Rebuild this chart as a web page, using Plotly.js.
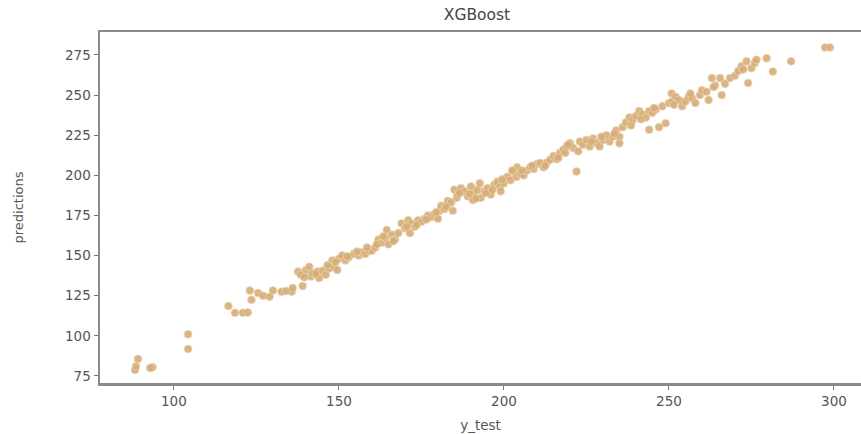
<!DOCTYPE html>
<html>
<head>
<meta charset="utf-8">
<script src="https://cdn.plot.ly/plotly-3.0.1.min.js"></script>
<style>html,body{margin:0;padding:0;background:#fff;}#chart{width:861px;height:434px;}</style>
</head>
<body>
<div id="chart"></div>
<script>
const yTest = [88.2,88.5,89.1,93.5,92.8,104.3,104.3,
116.5,118.5,120.9,122.4,123,123.5,125.5,127,129,130,132.6,135.7,134,
136,139,137.6,138.5,140,141.5,142,143.5,144,145,146,147,148,148.5,149.5,150,151,152,153,154.5,156,157,158,159,160,161,162,163,164,164.5,165,166,167,168,
169,170,171,171.5,172,173,174,175,176,177,178,179,180,180.6,181,182,183,184,184.5,185,185.7,186,187,188,189,190,190.6,191,192,192.7,193,194,195,196,197,198,198.8,199,200,201,202,203,203.8,204,205,206,207,208,209,210,211,212,213,214,215,216,217,218,218.6,219,220,221,222,223,224,225,226,227,228,229,230,231,232,233,234,235,235,236,237,238,239,240,241,242,243,244,244,245,246,247,248,249,250,250.8,251,252,253,254,255,256,257,258,259.4,260,261.4,262,263,264,265.5,266,267,268.5,270,271,272,273.5,274,275,276,276.5,279.6,281.5,287,297.3,298.8,
139.5,141,143,146.5,149,152.5,155.5,158.5,161.5,163.5,166.5,170.5,173.5,176.5,179.5,182.5,186.5,189.5,191.5,194.5,196.5,199.5,202.5,205.5,208.5,212.5,216.5,219.5,222.5,226.5,229.5,233.5,238.5,241.5,245.5,251.5,256.5,263.5,272.5];
const predictions = [78.7,81,85.6,80.4,80,101,91.8,
118.6,114.3,114.3,114.5,128.2,122.4,126.7,125,124.4,128.2,127.5,127.5,128,
129.8,131,140,138,141,137,139,140,136,140.5,138,142,147,143,141,148,150,147,149,151,150,152,151,153,153,155,160,158,161,166,157,163,160,164,
170,167,172,164,170,168,172,171,173,175,174,176,173,178,181,179,184,183,178,191,186,188,192,190,187,193,184.7,189,191,195,186,190,192,188,194,196,193,190,195,199,197,202,199,205,201,200,203,205,204,207,207.7,205,208,209.7,212,210,214,216,214,218,220,217,202.4,221,219,222,218,223,220,218,222,225,221,224,228,224,220,230,233,236,234.5,237,240,238,236,240,228.4,239,241,230,243,232.5,245,251,246,249,247,243,246,249,248,245,250,253,252,247,260.6,256,260.6,250,257,260.6,262,265,268,271,257.5,266.8,270,272,273,264.7,271,279.7,279.7,
136.5,143,138.5,144,146,149.5,152.5,155,157,162,159,168,169,172.5,177,180.5,189,188.5,185.5,189,191,197.5,203,203,206,206,211,219,215,221,224,226,231,235,242,244,251,255,266];
const xTicks = [100,150,200,250,300];
const yTicks = [75,100,125,150,175,200,225,250,275];

const trace = {
  x: yTest, y: predictions, type: 'scatter', mode: 'markers',
  marker: {color: '#d6ad76', size: 8, opacity: 0.9, line: {color: '#f1dfc6', width: 0.6}},
  hoverinfo: 'skip'
};
const axisFont = {family: 'DejaVu Sans', size: 13.5, color: '#555'};
const layout = {
  width: 861, height: 434,
  margin: {l: 100, r: 0, t: 32, b: 51},
  paper_bgcolor: '#fff', plot_bgcolor: '#fff',
  showlegend: false,
  title: {text: 'XGBoost', font: {family: 'DejaVu Sans', size: 15.5, color: '#444'},
          x: 477/861, xref: 'container', xanchor: 'center', y: 1 - 15/434, yref: 'container', yanchor: 'middle'},
  xaxis: {
    range: [77.6, 308.2], tickvals: xTicks, ticktext: xTicks.map(String),
    showgrid: false, zeroline: false, showline: true, linecolor: '#8a8a8a', linewidth: 2.5,
    mirror: true, ticks: 'outside', ticklen: 4, tickcolor: '#777', tickwidth: 1,
    tickfont: axisFont,
    title: {text: 'y_test', font: {family: 'DejaVu Sans', size: 13.5, color: '#555'}, standoff: 13}
  },
  yaxis: {
    range: [70.6, 289.3], tickvals: yTicks, ticktext: yTicks.map(String),
    showgrid: false, zeroline: false, showline: true, linecolor: '#8a8a8a', linewidth: 2.5,
    ticks: 'outside', ticklen: 4, tickcolor: '#777', tickwidth: 1,
    tickfont: axisFont,
    title: {text: 'predictions', font: {family: 'DejaVu Sans', size: 13, color: '#555'}, standoff: 39}
  }
};
Plotly.newPlot('chart', [trace], layout, {staticPlot: true, displayModeBar: false});
</script>
</body>
</html>
